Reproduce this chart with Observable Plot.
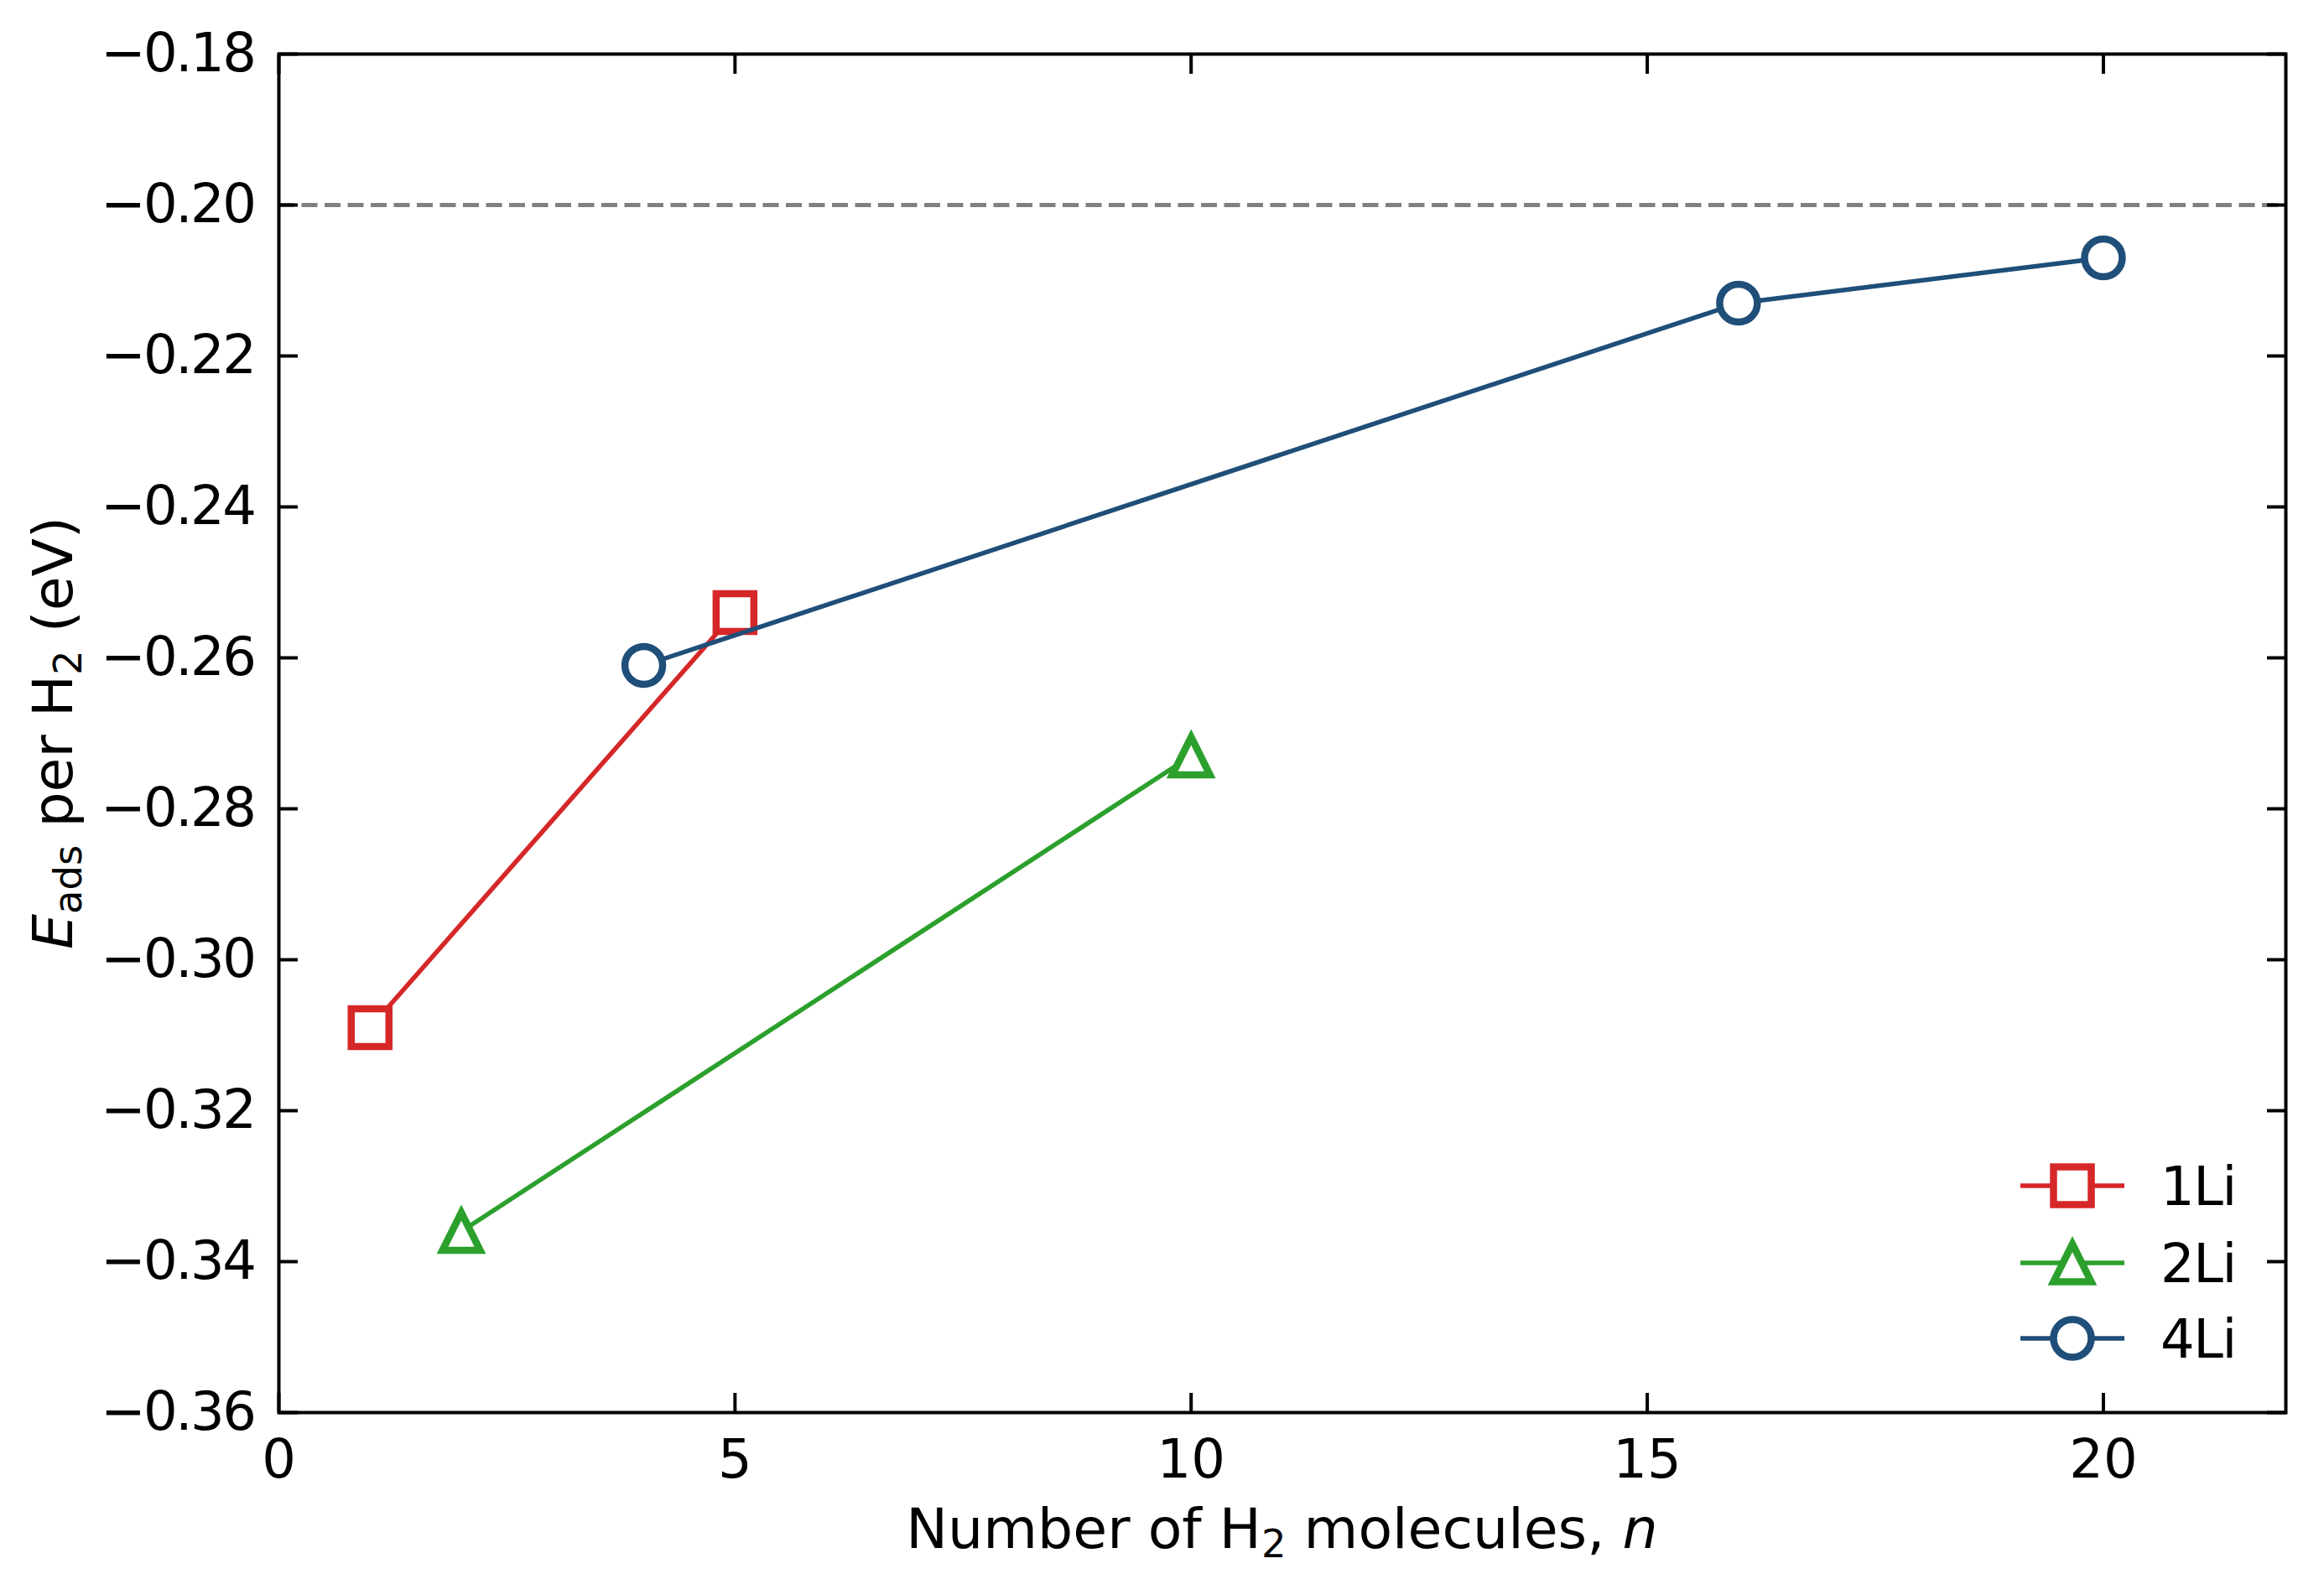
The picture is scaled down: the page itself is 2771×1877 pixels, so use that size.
<!DOCTYPE html>
<html><head><meta charset="utf-8">
<script src="https://cdn.jsdelivr.net/npm/d3@7"></script>
<script src="https://cdn.jsdelivr.net/npm/@observablehq/plot@0.6"></script>
<style>
html,body{margin:0;padding:0;background:#fff;}
svg{display:block;}
</style></head><body><div id="chart"></div>
<script>
// ---- data ----
const seriesNames = ["1Li", "2Li", "4Li"];
const seriesColors = ["#d62728", "#2ca02c", "#1f4e79"];
const n1Li = [1, 5];
const e1Li = [-0.309, -0.254];
const n2Li = [2, 10];
const e2Li = [-0.336, -0.273];
const n4Li = [4, 16, 20];
const e4Li = [-0.261, -0.213, -0.207];
const xTicks = [0, 5, 10, 15, 20];
const yTicks = [-0.36, -0.34, -0.32, -0.30, -0.28, -0.26, -0.24, -0.22, -0.20, -0.18];
const refLine = [-0.20];
const xDomain = [0, 22];
const yDomain = [-0.36, -0.18];

// ---- layout ----
const W = 2771, H = 1877;
const mL = 332, mR = 46, mT = 64, mB = 193;
const FONT = "DejaVu Sans";
const FS = 64, LFS = 66.5, SUB = 46.5, SUBDY = 11;
const LW = 5.5, MSW = 8.5, MR = 22.5, TICK = 23, AXW = 4;

// matplotlib-like marker shapes
const half = size => Math.sqrt(size / Math.PI);
const mplSquare = {draw(ctx, size) { const h = half(size); ctx.moveTo(-h, -h); ctx.lineTo(h, -h); ctx.lineTo(h, h); ctx.lineTo(-h, h); ctx.closePath(); }};
const mplTriangle = {draw(ctx, size) { const h = half(size); ctx.moveTo(0, -h); ctx.lineTo(h, h); ctx.lineTo(-h, h); ctx.closePath(); }};
const mplCircle = {draw(ctx, size) { const r = half(size); ctx.moveTo(r, 0); ctx.arc(0, 0, r, 0, 2 * Math.PI); ctx.closePath(); }};
const symbols = [mplSquare, mplTriangle, mplCircle];

const toRows = (xs, ys) => xs.map((x, i) => ({n: x, e: ys[i]}));
const seriesData = [toRows(n1Li, e1Li), toRows(n2Li, e2Li), toRows(n4Li, e4Li)];

const dataMarks = seriesData.flatMap((rows, i) => [
  Plot.line(rows, {x: "n", y: "e", stroke: seriesColors[i], strokeWidth: LW}),
  Plot.dot(rows, {x: "n", y: "e", symbol: symbols[i], r: MR, stroke: seriesColors[i], strokeWidth: MSW, fill: "white", strokeLinejoin: "miter"})
]);

const chart = Plot.plot({
  width: W, height: H,
  marginLeft: mL, marginRight: mR, marginTop: mT, marginBottom: mB,
  style: {fontFamily: FONT, fontSize: FS + "px", background: "white", color: "black"},
  x: {domain: xDomain, label: null},
  y: {domain: yDomain, label: null},
  marks: [
    Plot.ruleY(refLine, {stroke: "#808080", strokeWidth: 5, strokeDasharray: "19,8.5"}),
    ...dataMarks,
    Plot.frame({stroke: "black", strokeWidth: AXW}),
    Plot.axisX({ticks: xTicks, anchor: "bottom", tickSize: 0, tickPadding: 32, tickFormat: d => String(d), label: null, fontSize: FS}),
    Plot.axisX({ticks: xTicks, anchor: "bottom", tickSize: -TICK, tickFormat: () => "", strokeWidth: AXW, label: null}),
    Plot.axisX({ticks: xTicks, anchor: "top", tickSize: -TICK, tickFormat: () => "", strokeWidth: AXW, label: null}),
    Plot.axisY({ticks: yTicks, anchor: "left", tickSize: 0, tickPadding: 29, tickFormat: d3.format(".2f"), label: null, fontSize: FS}),
    Plot.axisY({ticks: yTicks, anchor: "left", tickSize: -TICK, tickFormat: () => "", strokeWidth: AXW, label: null}),
    Plot.axisY({ticks: yTicks, anchor: "right", tickSize: -TICK, tickFormat: () => "", strokeWidth: AXW, label: null})
  ]
});
document.getElementById("chart").appendChild(chart);

const svg = d3.select(chart);
svg.selectAll('g[aria-label="y-axis tick label"]').attr("letter-spacing", -2.5);

// x label
const xl = svg.append("text")
  .attr("x", (mL + W - mR) / 2).attr("y", 1846)
  .attr("text-anchor", "middle").attr("font-family", FONT).attr("font-size", LFS).attr("fill", "black");
xl.append("tspan").text("Number of H");
xl.append("tspan").attr("font-size", SUB).attr("dy", SUBDY).text("2");
xl.append("tspan").attr("dy", -SUBDY).text(" molecules, ");
xl.append("tspan").attr("font-style", "italic").text("n");

// y label
const yl = svg.append("text")
  .attr("transform", `translate(86,${(mT + H - mB) / 2}) rotate(-90)`)
  .attr("text-anchor", "middle").attr("font-family", FONT).attr("font-size", LFS).attr("fill", "black");
yl.append("tspan").attr("font-style", "italic").text("E");
yl.append("tspan").attr("font-size", SUB).attr("dy", SUBDY).text("ads");
yl.append("tspan").attr("dy", -SUBDY).text(" per H");
yl.append("tspan").attr("font-size", SUB).attr("dy", SUBDY).text("2");
yl.append("tspan").attr("dy", -SUBDY).text(" (eV)");

// legend
const legY = [1414, 1506, 1596];
seriesNames.forEach((name, i) => {
  const g = svg.append("g");
  g.append("line").attr("x1", 2409).attr("x2", 2533).attr("y1", legY[i]).attr("y2", legY[i])
    .attr("stroke", seriesColors[i]).attr("stroke-width", LW);
  g.append("path").attr("transform", `translate(2471,${legY[i]})`)
    .attr("d", d3.symbol(symbols[i], MR * MR * Math.PI)())
    .attr("fill", "white").attr("stroke", seriesColors[i]).attr("stroke-width", MSW).attr("stroke-linejoin", "miter");
  g.append("text").attr("x", 2576).attr("y", legY[i]).attr("dy", "0.36em")
    .attr("text-anchor", "start").attr("letter-spacing", -1.5)
    .attr("font-family", FONT).attr("font-size", FS).attr("fill", "black").text(name);
});
</script>
</body></html>
